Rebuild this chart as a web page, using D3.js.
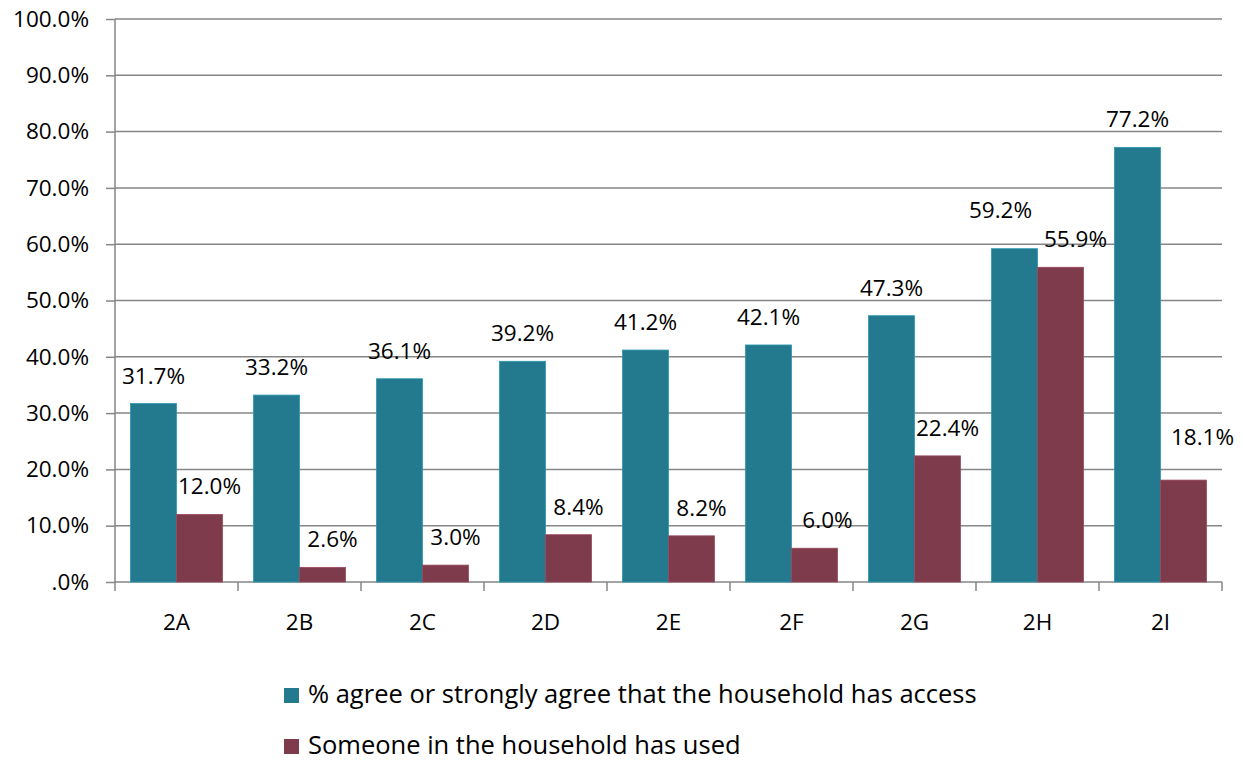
<!DOCTYPE html>
<html>
<head>
<meta charset="utf-8">
<script src="https://cdn.jsdelivr.net/npm/d3@7"></script>
<style>
  html, body { margin: 0; padding: 0; background: #fff; }
  svg { display: block; font-family: "Open Sans", "Noto Sans", sans-serif; }
</style>
</head>
<body>
<svg id="chart" width="1243" height="761"></svg>
<script>
// Survey items on the x axis
const categories = ["2A", "2B", "2C", "2D", "2E", "2F", "2G", "2H", "2I"];
// Series values, in percent
const accessValues = [31.7, 33.2, 36.1, 39.2, 41.2, 42.1, 47.3, 59.2, 77.2];
const usedValues = [12.0, 2.6, 3.0, 8.4, 8.2, 6.0, 22.4, 55.9, 18.1];
const seriesNames = [
  "% agree or strongly agree that the household has access",
  "Someone in the household has used"
];
const seriesColors = ["#237A8E", "#7D3B4B"];
const yTicks = [0, 10, 20, 30, 40, 50, 60, 70, 80, 90, 100];

const svg = d3.select("#chart");
const margin = { left: 115, right: 21, top: 19, bottom: 179 };
const W = 1243, H = 761;
const plotW = W - margin.left - margin.right;
const plotH = H - margin.top - margin.bottom;

const x = d3.scaleBand().domain(categories).range([margin.left, margin.left + plotW]).paddingInner(0).paddingOuter(0);
const inner = d3.scaleBand().domain([0, 1]).range([0, x.bandwidth()]).paddingInner(0).paddingOuter(0.337);
const y = d3.scaleLinear().domain([0, 100]).range([margin.top + plotH, margin.top]);

const fmt = v => (v === 0 ? ".0%" : v.toFixed(1) + "%");
const gridColor = "#868686";
const labelSize = 22.5;

// Value-label placement: second-series labels sit a little right of their bar,
// and a few labels are moved aside so they do not collide with neighbours.
const labelShiftX = [0, 10];
const labelAdjust = {
  "0-2H": { dx: -14, dy: -11 },
  "1-2H": { dx: 5, dy: 0 },
  "1-2F": { dx: 3, dy: 0 },
  "1-2I": { dx: 9, dy: -15 }
};

// Horizontal gridlines with left tick marks
const yAxis = svg.append("g")
  .attr("transform", `translate(${margin.left},0)`)
  .call(d3.axisLeft(y).tickValues(yTicks).tickFormat(fmt).tickSize(9).tickPadding(17));
yAxis.select(".domain").remove();
yAxis.selectAll(".tick line").attr("stroke", gridColor).attr("stroke-width", 1.5);
yAxis.selectAll(".tick text").attr("font-size", labelSize).attr("fill", "#000")
  .attr("font-family", "'Open Sans', sans-serif");
svg.append("g").selectAll("line").data(yTicks).join("line")
  .attr("x1", margin.left).attr("x2", margin.left + plotW)
  .attr("y1", d => y(d)).attr("y2", d => y(d))
  .attr("stroke", gridColor).attr("stroke-width", 1.5);

// Vertical axis line
svg.append("line")
  .attr("x1", margin.left).attr("x2", margin.left)
  .attr("y1", y(100)).attr("y2", y(0) + 9)
  .attr("stroke", gridColor).attr("stroke-width", 1.5);

// Category separators below the baseline
const bounds = categories.map(c => x(c)).concat([margin.left + plotW]);
svg.append("g").selectAll("line").data(bounds.slice(1)).join("line")
  .attr("x1", d => d).attr("x2", d => d)
  .attr("y1", y(0)).attr("y2", y(0) + 9)
  .attr("stroke", gridColor).attr("stroke-width", 1.5);

// Category labels
svg.append("g").selectAll("text").data(categories).join("text")
  .attr("x", d => x(d) + x.bandwidth() / 2)
  .attr("y", y(0) + 48)
  .attr("text-anchor", "middle")
  .attr("font-size", labelSize)
  .text(d => d);

// Bars and their value labels
const series = [accessValues, usedValues];
series.forEach((vals, si) => {
  const g = svg.append("g");
  g.selectAll("rect").data(vals).join("rect")
    .attr("x", (d, i) => x(categories[i]) + inner(si))
    .attr("y", d => y(d))
    .attr("width", inner.bandwidth())
    .attr("height", d => y(0) - y(d))
    .attr("fill", seriesColors[si])
    .attr("stroke", d3.color(seriesColors[si]).brighter(0.6))
    .attr("stroke-width", 0.8);
  const adj = i => labelAdjust[si + "-" + categories[i]] || { dx: 0, dy: 0 };
  g.selectAll("text").data(vals).join("text")
    .attr("x", (d, i) => x(categories[i]) + inner(si) + inner.bandwidth() / 2 + labelShiftX[si] + adj(i).dx)
    .attr("y", (d, i) => y(d) - 20 + adj(i).dy)
    .attr("text-anchor", "middle")
    .attr("font-size", labelSize)
    .attr("fill", "#000")
    .text(d => fmt(d));
});

// Legend
const legend = svg.append("g");
seriesNames.forEach((name, i) => {
  const base = 703 + i * 51;
  legend.append("rect")
    .attr("x", 284).attr("y", base - 15)
    .attr("width", 15).attr("height", 15)
    .attr("fill", seriesColors[i]);
  legend.append("text")
    .attr("x", 308).attr("y", base)
    .attr("font-size", 25.5)
    .attr("fill", "#000")
    .text(name);
});
</script>
</body>
</html>
